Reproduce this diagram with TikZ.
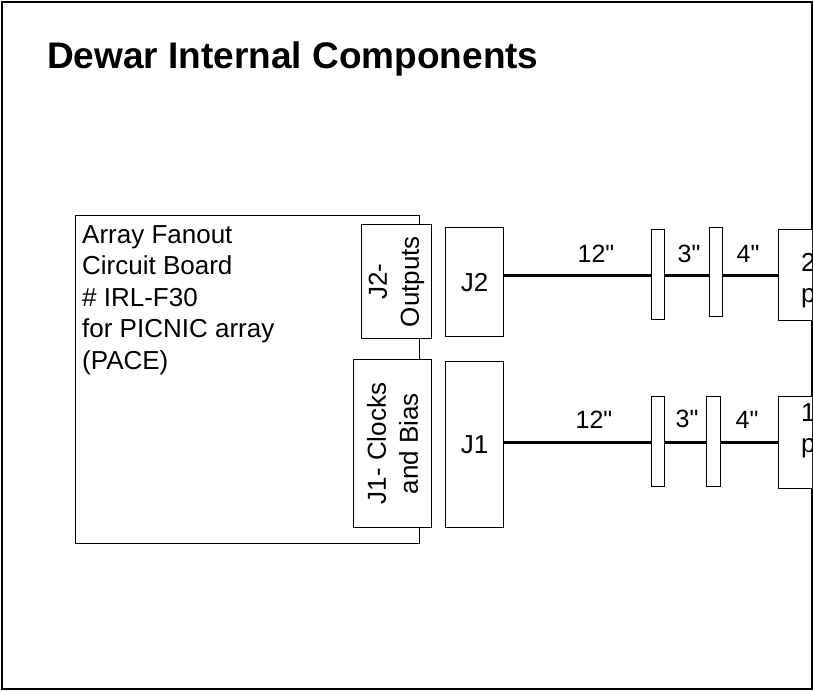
\documentclass[tikz,border=0pt]{standalone}
\usepackage{fontspec}
\setmainfont{Liberation Sans}[Ligatures=TeXOff]
\begin{document}
\begin{tikzpicture}[x=1pt,y=-1pt,
  box/.style={draw=black, line width=1.2pt, fill=white, inner sep=0pt, anchor=north west},
  txt/.style={font=\fontsize{26}{31.5}\selectfont},
  vtxt/.style={font=\fontsize{26}{32}\selectfont, rotate=90, align=center, inner sep=0pt},
  cable/.style={line width=3pt},
  lbl/.style={font=\fontsize{25}{28}\selectfont, anchor=base, inner sep=0pt}]
\useasboundingbox (0,0) rectangle (813,691);
\draw[line width=1.5pt] (2,2) rectangle (812,689);
\node[anchor=base west, inner sep=0pt, font=\bfseries\fontsize{37}{42}\selectfont] (title) at (47,68) {Dewar Internal Components};
% board
\node[box, minimum width=344pt, minimum height=328pt] (board) at (75,215) {};
\node[txt, anchor=north west, align=left, inner sep=0pt] (boardtxt) at (82,225) {Array Fanout\\Circuit Board\\\# IRL-F30\\for PICNIC array\\(PACE)};
% board connectors
\node[box, minimum width=70pt, minimum height=114pt] (j2o) at (361,224) {};
\node[vtxt] at (j2o.center) {J2-\\Outputs};
\node[box, minimum width=78pt, minimum height=168pt] (j1o) at (353,359) {};
\node[vtxt] at (j1o.center) {J1- Clocks\\and Bias};
% mating connectors
\node[box, minimum width=58pt, minimum height=109pt] (j2) at (445,227) {};
\node[txt, inner sep=0pt] at (j2.center) {J2};
\node[box, minimum width=58pt, minimum height=166pt] (j1) at (445,361) {};
\node[txt, inner sep=0pt] at (j1.center) {J1};
% plugs (clipped by the frame)
\begin{scope}
\clip (2,2) rectangle (812,689);
\node[box, minimum width=60pt, minimum height=91pt] (p2) at (778,229) {};
\node[box, minimum width=60pt, minimum height=92pt] (p1) at (778,396) {};
\node[txt, anchor=north west, align=left, inner sep=0pt] at (801,253) {2\\p};
\node[txt, anchor=north west, align=left, inner sep=0pt] at (801,403) {1\\p};
\end{scope}
% cables
\draw[cable] (j2.east |- p2.west) -- (p2.west);
\draw[cable] (j1.east |- p1.west) -- (p1.west);
% inline connectors
\node[box, minimum width=13pt, minimum height=90pt] (c2a) at (651,229) {};
\node[box, minimum width=13pt, minimum height=89pt] (c2b) at (709,227) {};
\node[box, minimum width=13pt, minimum height=90pt] (c1a) at (651,396) {};
\node[box, minimum width=14pt, minimum height=90pt] (c1b) at (706,396) {};
% lengths
\node[lbl] (l2a) at (596,262) {12"};
\node[lbl] (l2b) at (689,262) {3"};
\node[lbl] (l2c) at (748,262) {4"};
\node[lbl] (l1a) at (594,428) {12"};
\node[lbl] (l1b) at (687,427) {3"};
\node[lbl] (l1c) at (747,428) {4"};
\end{tikzpicture}
\end{document}
